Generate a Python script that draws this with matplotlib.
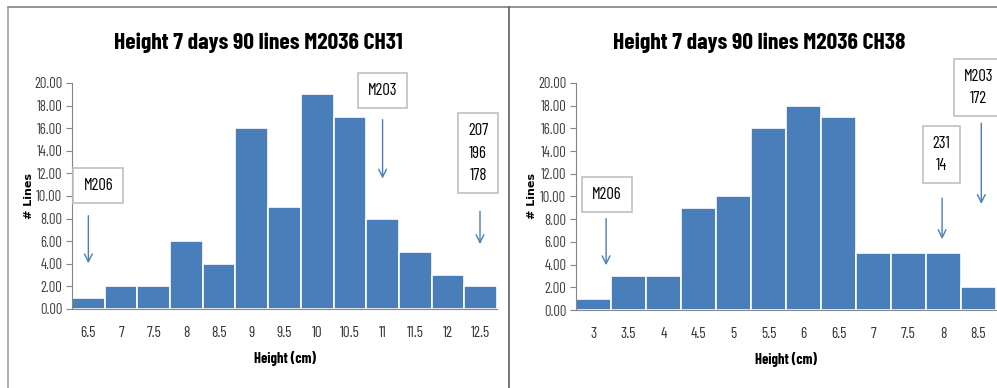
import matplotlib
matplotlib.use("Agg")
import matplotlib.pyplot as plt
from matplotlib.lines import Line2D

plt.rcParams['font.family'] = ['Barlow Condensed', 'DejaVu Sans']

# left chart: CH31
ch31_bins = [6.5, 7, 7.5, 8, 8.5, 9, 9.5, 10, 10.5, 11, 11.5, 12, 12.5]
ch31_counts = [1, 2, 2, 6, 4, 16, 9, 19, 17, 8, 5, 3, 2]
ch31_labels = ['6.5', '7', '7.5', '8', '8.5', '9', '9.5', '10', '10.5', '11', '11.5', '12', '12.5']

# right chart: CH38
ch38_bins = [3, 3.5, 4, 4.5, 5, 5.5, 6, 6.5, 7, 7.5, 8, 8.5]
ch38_counts = [1, 3, 3, 9, 10, 16, 18, 17, 5, 5, 5, 2]
ch38_labels = ['3', '3.5', '4', '4.5', '5', '5.5', '6', '6.5', '7', '7.5', '8', '8.5']

yticks = [0, 2, 4, 6, 8, 10, 12, 14, 16, 18, 20]

# callouts: (text, box x, box y, arrow x, arrow top, arrow tip)
ch31_notes = [('M206', 6.65, 10.9, 6.5, 8.5, 3.8),
              ('M203', 11.0, 19.3, 11.0, 17.0, 11.3),
              ('207\n196\n178', 12.46, 13.8, 12.49, 8.9, 5.5)]
ch38_notes = [('M206', 3.19, 10.2, 3.18, 8.3, 3.7),
              ('231\n14', 7.97, 13.7, 7.98, 10.1, 6.0),
              ('M203\n172', 8.5, 19.6, 8.54, 16.7, 9.1)]

BLUE = '#4a7ebb'
GRAY = '#868686'
W, H = 997, 388

fig = plt.figure(figsize=(W / 100, H / 100), dpi=100)
fig.patch.set_facecolor('white')

# screenshot frame lines
for (x0, y0, x1, y1, c) in [(8, 7, 997, 7, '#7f7f7f'), (8, 7, 8, 388, '#a0a0a0'),
                            (509, 7, 509, 388, '#606060')]:
    fig.add_artist(Line2D([x0 / W, x1 / W], [1 - y0 / H, 1 - y1 / H], color=c, lw=1.2))


def draw(rect, bins, counts, labels, notes, title, title_x, ylab_x):
    ax = fig.add_axes(rect)
    ax.bar(bins, counts, width=0.5, color=BLUE, edgecolor='white', linewidth=1.2)
    ax.set_xlim(bins[0] - 0.25, bins[-1] + 0.25)
    ax.set_ylim(0, 20)
    ax.set_yticks(yticks)
    ax.set_yticklabels(['%.2f' % v for v in yticks], fontsize=10.5, color='#404040')
    ax.set_xticks(bins)
    ax.set_xticklabels(labels, fontsize=11, color='#333333')
    ax.tick_params(axis='x', length=0, pad=12)
    ax.tick_params(axis='y', length=4, color=GRAY, pad=3)
    for s in ['top', 'right']:
        ax.spines[s].set_visible(False)
    for s in ['left', 'bottom']:
        ax.spines[s].set_color(GRAY)
    ax.set_xlabel('Height (cm)', fontsize=10.5, fontweight='bold', labelpad=8)
    ax.set_ylabel('# Lines', fontsize=8, fontweight='bold', family='DejaVu Sans')
    ax.yaxis.set_label_coords(ylab_x, 0.5)
    fig.text(title_x / W, 1 - 43 / H, title, fontsize=17, fontweight='bold',
             ha='center', va='center')
    for txt, bx, by, axx, ytop, ytip in notes:
        ax.annotate('', xy=(axx, ytip), xytext=(axx, ytop),
                    arrowprops=dict(arrowstyle='->', color=BLUE, lw=1, mutation_scale=14),
                    annotation_clip=False)
        ax.text(bx, by, txt, fontsize=12, ha='center', va='center', linespacing=1.6,
                clip_on=False,
                bbox=dict(boxstyle='square,pad=0.6', facecolor='white',
                          edgecolor='#c0c0c0', linewidth=1.2))
    return ax


draw([72 / W, 79 / H, 425 / W, 226 / H], ch31_bins, ch31_counts, ch31_labels,
     ch31_notes, 'Height 7 days 90 lines M2036 CH31', 258, -0.089)
draw([576 / W, 78 / H, 420 / W, 227 / H], ch38_bins, ch38_counts, ch38_labels,
     ch38_notes, 'Height 7 days 90 lines M2036 CH38', 759, -0.093)

fig.savefig('out.png', dpi=100)
